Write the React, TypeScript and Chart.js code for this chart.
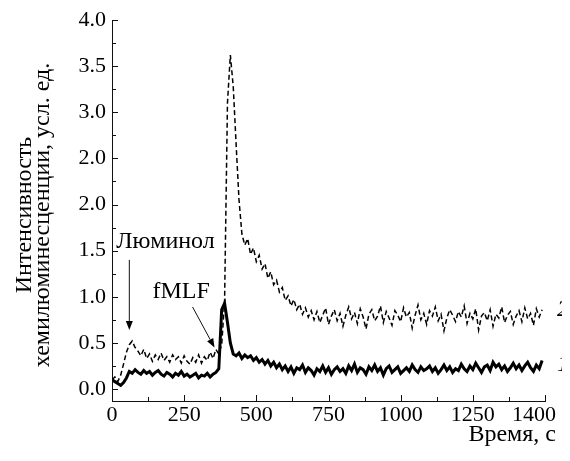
import React, { useEffect, useRef } from 'react';
import { Chart, registerables } from 'chart.js';

Chart.register(...registerables);

const SERIF = '"Liberation Serif", "Times New Roman", Times, serif';

const times = [
  0, 10, 20, 30, 40, 50, 60, 70, 80, 90,
  100, 110, 120, 130, 140, 150, 160, 170, 180, 190,
  200, 210, 220, 230, 240, 250, 260, 270, 280, 290,
  300, 310, 320, 330, 340, 350, 360, 370, 380, 390,
  400, 410, 420, 430, 440, 450, 460, 470, 480, 490,
  500, 510, 520, 530, 540, 550, 560, 570, 580, 590,
  600, 610, 620, 630, 640, 650, 660, 670, 680, 690,
  700, 710, 720, 730, 740, 750, 760, 770, 780, 790,
  800, 810, 820, 830, 840, 850, 860, 870, 880, 890,
  900, 910, 920, 930, 940, 950, 960, 970, 980, 990,
  1000, 1010, 1020, 1030, 1040, 1050, 1060, 1070, 1080, 1090,
  1100, 1110, 1120, 1130, 1140, 1150, 1160, 1170, 1180, 1190,
  1200, 1210, 1220, 1230, 1240, 1250, 1260, 1270, 1280, 1290,
  1300, 1310, 1320, 1330, 1340, 1350, 1360, 1370, 1380, 1390,
  1400, 1410, 1420, 1430, 1440, 1450, 1460, 1470, 1480, 1490,
];

// curve 1 (solid)
const curve1 = [
  0.10, 0.08, 0.06, 0.04, 0.07, 0.12, 0.19, 0.17, 0.21, 0.18,
  0.16, 0.20, 0.17, 0.19, 0.15, 0.18, 0.20, 0.16, 0.14, 0.18,
  0.16, 0.13, 0.17, 0.15, 0.19, 0.14, 0.16, 0.13, 0.15, 0.17,
  0.12, 0.15, 0.14, 0.17, 0.13, 0.16, 0.18, 0.22, 0.86, 0.93,
  0.72, 0.50, 0.38, 0.36, 0.39, 0.33, 0.37, 0.34, 0.36, 0.31,
  0.34, 0.29, 0.32, 0.27, 0.31, 0.25, 0.29, 0.23, 0.27, 0.21,
  0.25, 0.19, 0.24, 0.17, 0.23, 0.21, 0.26, 0.18, 0.23, 0.20,
  0.15, 0.22, 0.19, 0.25, 0.18, 0.23, 0.16, 0.21, 0.24, 0.19,
  0.22, 0.17, 0.25, 0.20, 0.27, 0.18, 0.23, 0.21, 0.16, 0.24,
  0.20, 0.26, 0.19, 0.23, 0.15, 0.22, 0.25, 0.18, 0.21, 0.24,
  0.17, 0.20, 0.23, 0.19, 0.26, 0.21, 0.18, 0.24, 0.20, 0.22,
  0.25, 0.19, 0.23, 0.17, 0.21, 0.26, 0.20, 0.24, 0.18, 0.22,
  0.20, 0.27, 0.22, 0.19, 0.25, 0.21, 0.28, 0.23, 0.18, 0.24,
  0.26, 0.20, 0.29, 0.24, 0.27, 0.21, 0.25, 0.19, 0.23, 0.28,
  0.22, 0.26, 0.20, 0.25, 0.29, 0.23, 0.19, 0.26, 0.22, 0.31,
];

// curve 2 (dashed)
const curve2 = [
  0.10, 0.13, 0.08, 0.15, 0.27, 0.40, 0.48, 0.52, 0.45, 0.41,
  0.36, 0.43, 0.33, 0.38, 0.30, 0.37, 0.32, 0.39, 0.31, 0.35,
  0.29, 0.37, 0.32, 0.35, 0.28, 0.36, 0.30, 0.27, 0.34, 0.29,
  0.37, 0.28, 0.35, 0.31, 0.40, 0.33, 0.43, 0.38, 0.48, 0.95,
  3.10, 3.62, 3.28, 2.65, 2.05, 1.68, 1.56, 1.63, 1.46, 1.53,
  1.38, 1.45, 1.30, 1.36, 1.20, 1.27, 1.13, 1.18, 1.05, 1.10,
  0.96, 1.01, 0.90, 0.97, 0.86, 0.92, 0.81, 0.88, 0.78, 0.85,
  0.75, 0.84, 0.72, 0.80, 0.88, 0.70, 0.79, 0.86, 0.74, 0.82,
  0.68, 0.80, 0.89, 0.76, 0.83, 0.71, 0.87, 0.78, 0.65, 0.81,
  0.86, 0.74, 0.79, 0.90, 0.72, 0.84, 0.77, 0.69, 0.85, 0.80,
  0.73, 0.88, 0.78, 0.83, 0.66, 0.80, 0.91, 0.75, 0.82, 0.70,
  0.85, 0.79, 0.89, 0.74, 0.81, 0.63, 0.77, 0.86, 0.80, 0.73,
  0.84, 0.78, 0.90, 0.71, 0.82, 0.76, 0.87, 0.64, 0.79, 0.83,
  0.74, 0.86, 0.68, 0.81, 0.77, 0.89, 0.72, 0.80, 0.84, 0.70,
  0.79, 0.85, 0.73, 0.88, 0.76, 0.82, 0.69, 0.87, 0.78, 0.86,
];

const xTickValues = [0, 250, 500, 750, 1000, 1250, 1500];
const xTickLabels = ['0', '250', '500', '750', '1000', '1250', '1400'];
const xMinorTicks = [125, 375, 625, 875, 1125, 1375];
const yTickValues = [0, 0.5, 1.0, 1.5, 2.0, 2.5, 3.0, 3.5, 4.0];
const yTickLabels = ['0.0', '0.5', '1.0', '1.5', '2.0', '2.0', '3.0', '3.5', '4.0'];
const yMinorTicks = [0.25, 0.75, 1.25, 1.75, 2.25, 2.75, 3.25, 3.75];

const yTitleLines = ['Интенсивность', 'хемилюминесценции, усл. ед.'];
const xTitle = 'Время, с';

const luminolText = { text: 'Люминол', x: 15, y: 1.53 };
const luminolArrow = { x1: 60, y1: 1.4, x2: 60, y2: 0.64 };
const fmlfText = { text: 'fMLF', x: 140, y: 0.99 };
const fmlfArrow = { x1: 279, y1: 0.89, x2: 355, y2: 0.45 };
const curveLabels = [
  { text: '2', x: 1500, y: 0.86 },
  { text: '1', x: 1500, y: 0.26 },
];

function arrow(ctx: CanvasRenderingContext2D, x1: number, y1: number, x2: number, y2: number) {
  const ang = Math.atan2(y2 - y1, x2 - x1);
  const hl = 9;
  const hw = 3.5;
  const bx = x2 - hl * Math.cos(ang);
  const by = y2 - hl * Math.sin(ang);
  ctx.beginPath();
  ctx.moveTo(x1, y1);
  ctx.lineTo(bx, by);
  ctx.stroke();
  ctx.beginPath();
  ctx.moveTo(x2, y2);
  ctx.lineTo(bx + hw * Math.sin(ang), by - hw * Math.cos(ang));
  ctx.lineTo(bx - hw * Math.sin(ang), by + hw * Math.cos(ang));
  ctx.closePath();
  ctx.fill();
}

const overlay = {
  id: 'overlay',
  afterDraw(chart: any) {
    const ctx: CanvasRenderingContext2D = chart.ctx;
    const a = chart.chartArea;
    const x = chart.scales.x;
    const y = chart.scales.y;
    ctx.save();
    ctx.fillStyle = '#000';
    ctx.strokeStyle = '#111';
    ctx.lineWidth = 1;
    ctx.setLineDash([]);

    ctx.font = `22px ${SERIF}`;
    ctx.textAlign = 'right';
    ctx.textBaseline = 'middle';
    yTickValues.forEach((v, i) => {
      ctx.fillText(yTickLabels[i], a.left - 6, y.getPixelForValue(v));
    });
    ctx.textAlign = 'center';
    ctx.textBaseline = 'top';
    xTickValues.forEach((v, i) => {
      const label = xTickLabels[i];
      let px = x.getPixelForValue(v);
      const w = ctx.measureText(label).width;
      const maxRight = chart.width - 14;
      if (px + w / 2 > maxRight) px = maxRight - w / 2;
      ctx.fillText(label, px, a.bottom + 3);
    });

    const yt = (v: number, len: number) => {
      const py = Math.round(y.getPixelForValue(v)) + 0.5;
      ctx.beginPath();
      ctx.moveTo(a.left, py);
      ctx.lineTo(a.left + len, py);
      ctx.stroke();
    };
    yTickValues.forEach((v) => yt(v, 6));
    yMinorTicks.forEach((v) => yt(v, 4));
    const xt = (v: number, len: number) => {
      const px = Math.round(x.getPixelForValue(v)) + 0.5;
      ctx.beginPath();
      ctx.moveTo(px, a.bottom);
      ctx.lineTo(px, a.bottom - len);
      ctx.stroke();
    };
    xTickValues.forEach((v) => xt(v, 6));
    xMinorTicks.forEach((v) => xt(v, 4));

    ctx.font = `24px ${SERIF}`;
    ctx.textAlign = 'right';
    ctx.textBaseline = 'alphabetic';
    ctx.fillText(xTitle, chart.width - 14, 441);

    ctx.textAlign = 'center';
    const cy = 215;
    [31, 49].forEach((bx, i) => {
      ctx.save();
      ctx.translate(bx, cy);
      ctx.rotate(-Math.PI / 2);
      ctx.fillText(yTitleLines[i], 0, 0);
      ctx.restore();
    });

    ctx.textAlign = 'left';
    ctx.fillText(luminolText.text, x.getPixelForValue(luminolText.x), y.getPixelForValue(luminolText.y));
    ctx.fillText(fmlfText.text, x.getPixelForValue(fmlfText.x), y.getPixelForValue(fmlfText.y));
    arrow(ctx,
      x.getPixelForValue(luminolArrow.x1), y.getPixelForValue(luminolArrow.y1),
      x.getPixelForValue(luminolArrow.x2), y.getPixelForValue(luminolArrow.y2));
    arrow(ctx,
      x.getPixelForValue(fmlfArrow.x1), y.getPixelForValue(fmlfArrow.y1),
      x.getPixelForValue(fmlfArrow.x2), y.getPixelForValue(fmlfArrow.y2));

    ctx.font = `italic 24px ${SERIF}`;
    ctx.textBaseline = 'middle';
    curveLabels.forEach((c) => {
      ctx.fillText(c.text, x.getPixelForValue(c.x) + 12, y.getPixelForValue(c.y));
    });
    ctx.restore();
  },
};

export default function App() {
  const ref = useRef<HTMLCanvasElement>(null);
  useEffect(() => {
    const chart = new Chart(ref.current!, {
      type: 'line',
      data: {
        datasets: [
          {
            label: '2',
            data: times.map((t, i) => ({ x: t, y: curve2[i] })),
            borderColor: '#000',
            borderWidth: 1.5,
            borderDash: [5, 3],
            pointRadius: 0,
            fill: false,
            tension: 0,
          },
          {
            label: '1',
            data: times.map((t, i) => ({ x: t, y: curve1[i] })),
            borderColor: '#000',
            borderWidth: 3,
            pointRadius: 0,
            fill: false,
            tension: 0,
          },
        ],
      },
      options: {
        responsive: false,
        animation: false,
        layout: { padding: { top: 20, right: 25, bottom: 0, left: 0 } },
        plugins: { legend: { display: false }, tooltip: { enabled: false } },
        scales: {
          x: {
            type: 'linear',
            min: 0,
            max: 1500,
            grid: { display: false, drawTicks: false },
            border: { display: true, color: '#111', width: 1 },
            ticks: { display: false },
            afterFit: (s: any) => { s.height = 60; },
          },
          y: {
            type: 'linear',
            min: -0.13,
            max: 4.0,
            grid: { display: false, drawTicks: false },
            border: { display: true, color: '#111', width: 1 },
            ticks: { display: false },
            afterFit: (s: any) => { s.width = 112; },
          },
        },
      },
      plugins: [overlay],
    });
    return () => chart.destroy();
  }, []);
  return <canvas ref={ref} width={570} height={461} style={{ marginLeft: -8, marginTop: -8 }} />;
}
